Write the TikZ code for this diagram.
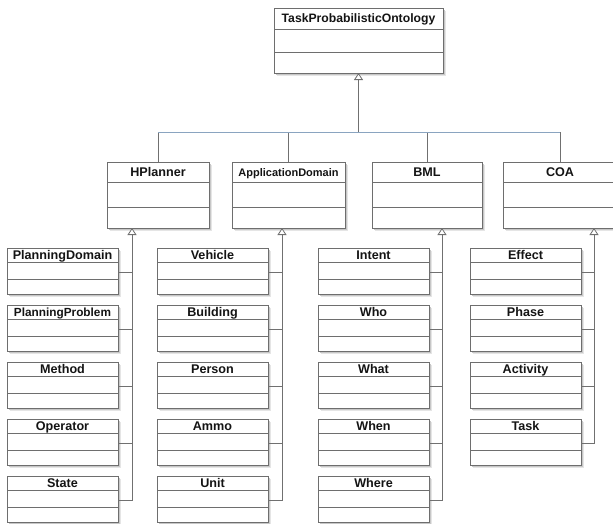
\documentclass[tikz,border=0pt]{standalone}
\usepackage{fontspec}
\setmainfont{Liberation Sans}
\usetikzlibrary{arrows.meta,calc}

\definecolor{frameclr}{HTML}{6E6E6E}
\definecolor{linkclr}{HTML}{707070}
\definecolor{busclr}{HTML}{8AA4C0}
\definecolor{textclr}{HTML}{141414}

\tikzset{
  umlframe/.style={draw=frameclr, line width=0.9pt, fill=white, rectangle,
                   inner sep=0pt, outer sep=0pt},
  umldivider/.style={draw=frameclr, line width=0.9pt},
  umltitle/.style={font=\bfseries\fontsize{12.6}{14}\selectfont, text=textclr,
                   inner sep=0pt, anchor=base},
  umlshadowa/.style={fill=black!10},
  umlshadowb/.style={fill=black!22},
  conn/.style={draw=linkclr, line width=0.8pt},
  busline/.style={draw=busclr, line width=0.8pt},
  gen/.style={conn, -{Triangle[open, length=7pt, width=9pt, fill=white]}},
}

% #1 name, #2 left, #3 top, #4 width, #5 title height,
% #6 attribute-section bottom, #7 total height, #8 title text
% (the picture runs with y pointing down, so positive y offsets go down)
\newcommand\umlbox[8]{%
  \fill[umlshadowa] (#2+3,#3+3) rectangle (#2+#4+3,#3+#7+3);
  \fill[umlshadowb] (#2+2,#3+2) rectangle (#2+#4+2,#3+#7+2);
  \node[umlframe, minimum width=#4pt, minimum height=#7pt, anchor=north west]
    (#1) at (#2,#3) {};
  \draw[umldivider] ([yshift=-#5pt]#1.north west) -- ([yshift=-#5pt]#1.north east);
  \draw[umldivider] ([yshift=-#6pt]#1.north west) -- ([yshift=-#6pt]#1.north east);
  \node[umltitle] (#1-title) at ($(#1.north)+(0,#5/2+4)$) {#8};
}
% small leaf class: rows of the lower level
\newcommand\leafbox[4]{\umlbox{#1}{#2}{#3}{111}{14}{31}{46}{#4}}

\begin{document}
\begin{tikzpicture}[x=1pt, y=-1pt]
  \useasboundingbox (0,0) rectangle (613,523);

  % root class
  \umlbox{root}{274}{8}{169}{21}{44}{65}{\fontsize{12.2}{14}\selectfont TaskProbabilisticOntology}

  % second level
  \umlbox{hpl}{107}{162}{102}{20}{45}{66}{HPlanner}
  \umlbox{app}{232}{162}{113}{20}{45}{66}{\fontsize{11}{13}\selectfont ApplicationDomain}
  \umlbox{bml}{372}{162}{110}{20}{45}{66}{BML}
  \umlbox{coa}{503}{162}{114}{20}{45}{66}{COA}

  % HPlanner children
  \leafbox{pdom}{7}{248}{PlanningDomain}
  \leafbox{pprob}{7}{305}{\fontsize{11.8}{13}\selectfont PlanningProblem}
  \leafbox{meth}{7}{362}{Method}
  \leafbox{oper}{7}{419}{Operator}
  \leafbox{stat}{7}{476}{State}

  % ApplicationDomain children
  \leafbox{veh}{157}{248}{Vehicle}
  \leafbox{bld}{157}{305}{Building}
  \leafbox{pers}{157}{362}{Person}
  \leafbox{ammo}{157}{419}{Ammo}
  \leafbox{unit}{157}{476}{Unit}

  % BML children
  \leafbox{intent}{318}{248}{Intent}
  \leafbox{who}{318}{305}{Who}
  \leafbox{what}{318}{362}{What}
  \leafbox{when}{318}{419}{When}
  \leafbox{where}{318}{476}{Where}

  % COA children
  \leafbox{eff}{470}{248}{Effect}
  \leafbox{phase}{470}{305}{Phase}
  \leafbox{act}{470}{362}{Activity}
  \leafbox{task}{470}{419}{Task}

  % generalisation spines of the lower level
  \coordinate (sp1) at (132,228);
  \coordinate (sp2) at (282,228);
  \coordinate (sp3) at (442,228);
  \coordinate (sp4) at (594,228);

  \foreach \c/\sp in {pdom/sp1, pprob/sp1, meth/sp1, oper/sp1,
                      veh/sp2, bld/sp2, pers/sp2, ammo/sp2,
                      intent/sp3, who/sp3, what/sp3, when/sp3,
                      eff/sp4, phase/sp4, act/sp4}
    \draw[conn] ([yshift=-24pt]\c.north east) -- ([yshift=-24pt]\c.north east -| \sp);

  \draw[gen] ([yshift=-24pt]stat.north east) -| (sp1);
  \draw[gen] ([yshift=-24pt]unit.north east) -| (sp2);
  \draw[gen] ([yshift=-24pt]where.north east) -| (sp3);
  \draw[gen] ([yshift=-24pt]task.north east) -| (sp4);

  % generalisation to the root class
  \coordinate (bus) at (358.5,132);
  \draw[conn] (hpl.north) -- (hpl.north |- bus);
  \draw[conn] (app.north) -- (app.north |- bus);
  \draw[conn] (bml.north) -- (bml.north |- bus);
  \draw[conn] (coa.north) -- (coa.north |- bus);
  \draw[busline] (hpl.north |- bus) -- (coa.north |- bus);
  \draw[gen] (bus) -- (root.south);
\end{tikzpicture}
\end{document}
